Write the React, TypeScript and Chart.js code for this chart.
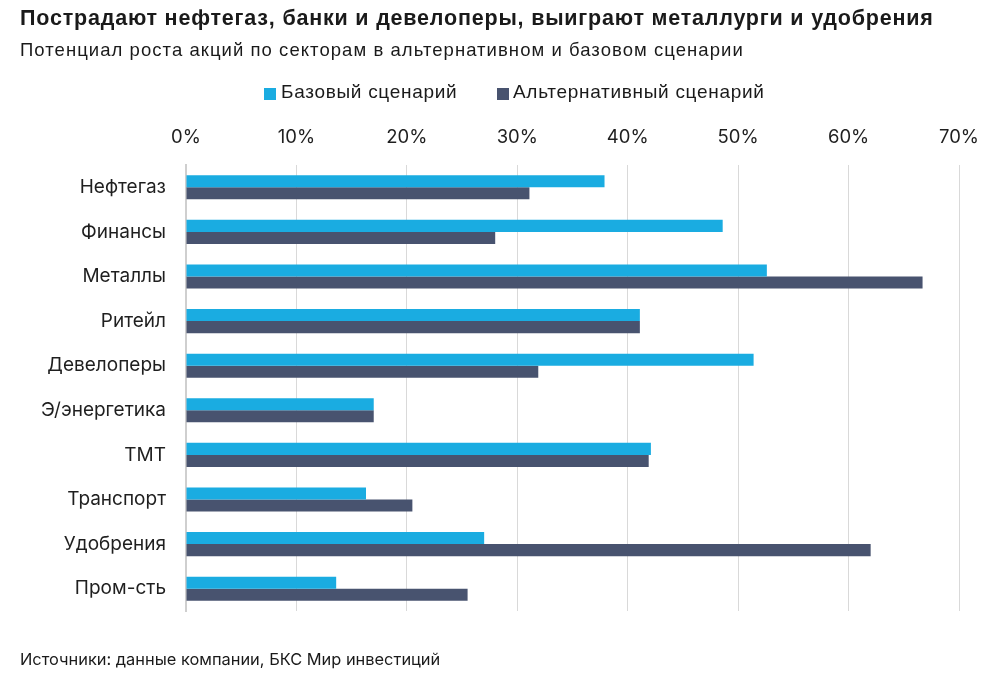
import React, { useEffect, useRef } from "react";
import { Chart, registerables } from "chart.js";

Chart.register(...registerables);

const titleText = "Пострадают нефтегаз, банки и девелоперы, выиграют металлурги и удобрения";
const subtitleText = "Потенциал роста акций по секторам в альтернативном и базовом сценарии";
const sourceText = "Источники: данные компании, БКС Мир инвестиций";

const categories = [
  "Нефтегаз",
  "Финансы",
  "Металлы",
  "Ритейл",
  "Девелоперы",
  "Э/энергетика",
  "ТМТ",
  "Транспорт",
  "Удобрения",
  "Пром-сть",
];
const seriesNames = ["Базовый сценарий", "Альтернативный сценарий"];
const baseValues = [37.9, 48.6, 52.6, 41.1, 51.4, 17.0, 42.1, 16.3, 27.0, 13.6];
const altValues = [31.1, 28.0, 66.7, 41.1, 31.9, 17.0, 41.9, 20.5, 62.0, 25.5];
const xTickValues = [0, 10, 20, 30, 40, 50, 60, 70];

const BASE_COLOR = "#1aace1";
const ALT_COLOR = "#48536f";
const ARIAL = '"Liberation Sans", Arial, Helvetica, sans-serif';
const SANS = 'Inter, "Noto Sans", Arial, sans-serif';

export default function App() {
  const canvasRef = useRef<HTMLCanvasElement | null>(null);

  useEffect(() => {
    const canvas = canvasRef.current;
    if (!canvas) return;
    const chart = new Chart(canvas, {
      type: "bar",
      data: {
        labels: categories,
        datasets: [
          {
            label: seriesNames[0],
            data: baseValues,
            backgroundColor: BASE_COLOR,
            categoryPercentage: 0.54,
            barPercentage: 1,
          },
          {
            label: seriesNames[1],
            data: altValues,
            backgroundColor: ALT_COLOR,
            categoryPercentage: 0.54,
            barPercentage: 1,
          },
        ],
      },
      options: {
        indexAxis: "y",
        responsive: false,
        animation: false,
        devicePixelRatio: 1,
        layout: { padding: { top: 100, left: 0, right: 47, bottom: 66 } },
        plugins: {
          legend: { display: false },
          tooltip: { enabled: false },
          title: { display: false },
        },
        scales: {
          x: {
            position: "top",
            min: 0,
            max: 70,
            afterFit: (scale: any) => {
              scale.height = 65;
            },
            afterBuildTicks: (scale: any) => {
              scale.ticks = xTickValues.map((v) => ({ value: v }));
            },
            ticks: {
              padding: 16,
              color: "#1f1f1f",
              font: { family: SANS, size: 18.5 },
              callback: (v: any) => `${v}%`,
            },
            grid: { color: "#d9d9d9", drawTicks: false, lineWidth: 1 },
            border: { display: false },
          },
          y: {
            afterFit: (scale: any) => {
              scale.width = 186;
            },
            ticks: {
              padding: 20,
              color: "#1f1f1f",
              font: { family: SANS, size: 19 },
            },
            grid: { display: false, drawTicks: false },
            border: { display: true, color: "#cfcfcf", width: 2 },
          },
        },
      },
    });
    return () => chart.destroy();
  }, []);

  const legendText: React.CSSProperties = {
    position: "absolute",
    top: 81,
    fontFamily: ARIAL,
    fontSize: 19,
    letterSpacing: "0.7px",
    lineHeight: "22px",
    color: "#1a1a1a",
    whiteSpace: "nowrap",
  };

  return (
    <div style={{ position: "absolute", left: 0, top: 0, width: 1006, height: 677, background: "#fff", overflow: "hidden" }}>
      <canvas ref={canvasRef} width={1006} height={677} style={{ position: "absolute", left: 0, top: 0, width: 1006, height: 677 }} />
      <div style={{ position: "absolute", left: 20, top: 5, fontFamily: ARIAL, fontWeight: 700, fontSize: 21.5, letterSpacing: "0.8px", lineHeight: "26px", color: "#1a1a1a", whiteSpace: "nowrap" }}>
        {titleText}
      </div>
      <div style={{ position: "absolute", left: 20, top: 39, fontFamily: ARIAL, fontSize: 18.5, letterSpacing: "1.05px", lineHeight: "22px", color: "#1a1a1a", whiteSpace: "nowrap" }}>
        {subtitleText}
      </div>
      <div style={{ position: "absolute", left: 264, top: 88, width: 12, height: 12, background: BASE_COLOR }} />
      <div style={{ ...legendText, left: 281 }}>{seriesNames[0]}</div>
      <div style={{ position: "absolute", left: 497, top: 88, width: 12, height: 12, background: ALT_COLOR }} />
      <div style={{ ...legendText, left: 513 }}>{seriesNames[1]}</div>
      <div style={{ position: "absolute", left: 20, top: 648, fontFamily: SANS, fontSize: 16.4, lineHeight: "22px", color: "#1a1a1a", whiteSpace: "nowrap" }}>
        {sourceText}
      </div>
    </div>
  );
}
